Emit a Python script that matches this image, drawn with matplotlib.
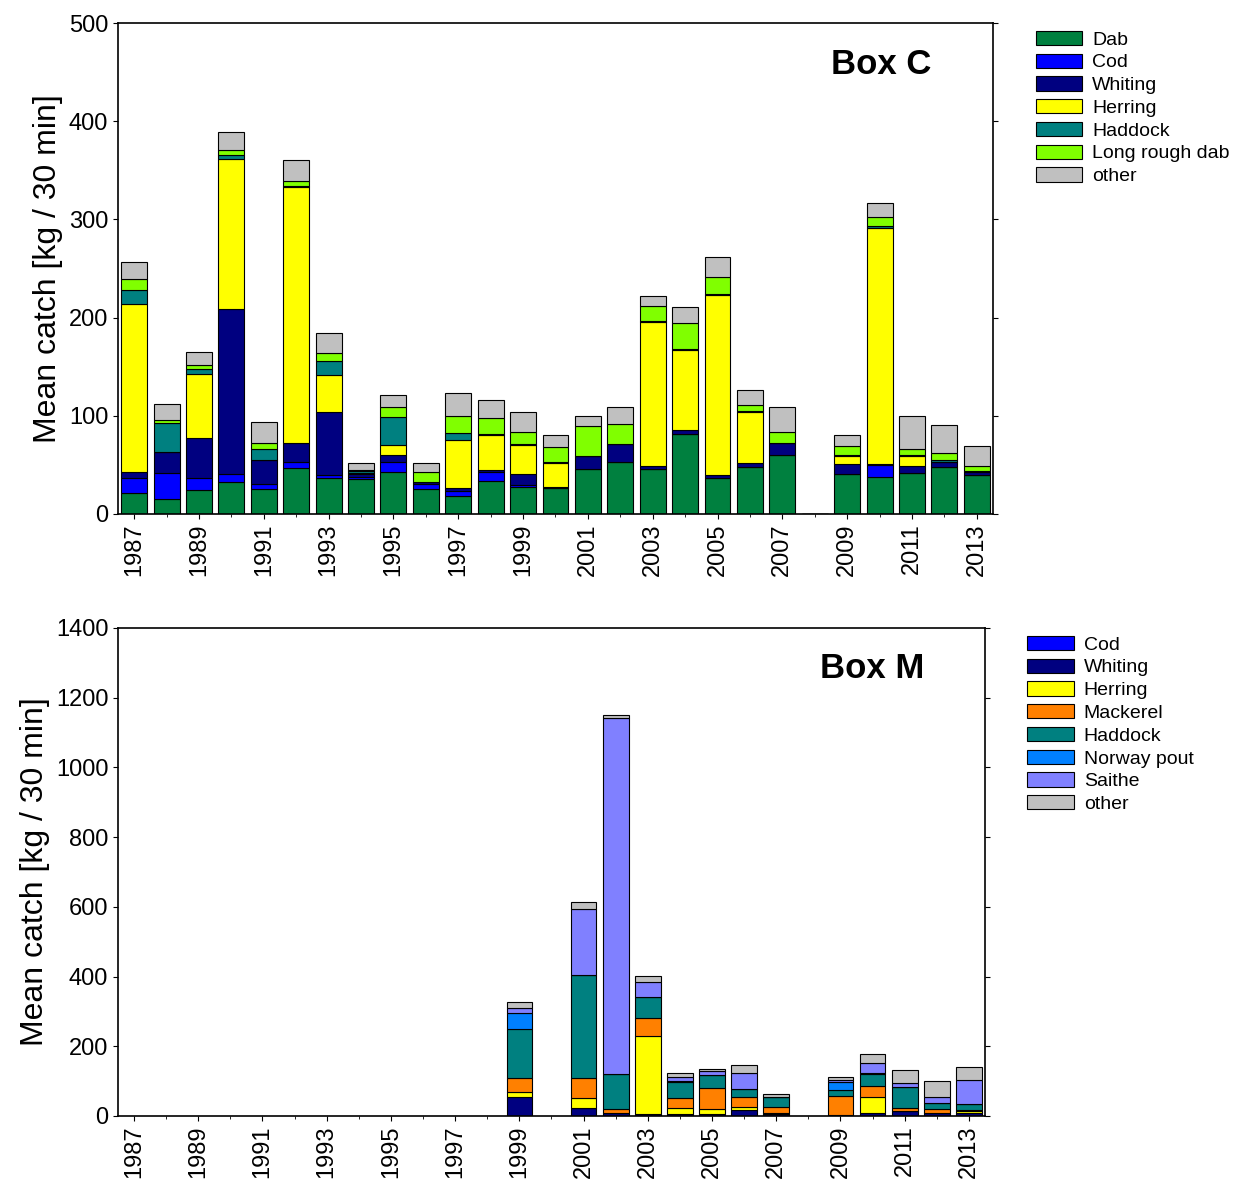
import numpy as np
import matplotlib.pyplot as plt
from matplotlib.ticker import MultipleLocator

plt.rcParams["font.family"] = ["Liberation Sans", "DejaVu Sans"]

years = list(range(1987, 2014))

# Box C: cumulative tops per year (kg/30 min), stacked in order below
c_species = ["Dab", "Cod", "Whiting", "Herring", "Haddock", "Long rough dab", "other"]
c_colors = ["#00803f", "#0000ff", "#000080", "#ffff00", "#008080", "#80ff00", "#c0c0c0"]
c_tops = [
    [21, 37, 43, 214, 228, 239, 257],
    [15, 42, 63, 63, 93, 96, 112],
    [24, 37, 77, 143, 148, 152, 165],
    [33, 41, 209, 362, 366, 371, 389],
    [25, 31, 55, 55, 66, 72, 94],
    [47, 53, 72, 333, 334, 339, 360],
    [37, 40, 104, 142, 156, 164, 184],
    [36, 38, 41, 42, 44, 45, 52],
    [43, 53, 60, 70, 99, 109, 121],
    [25, 31, 33, 33, 33, 43, 52],
    [18, 23, 26, 75, 82, 100, 123],
    [34, 43, 45, 80, 81, 98, 116],
    [28, 30, 41, 70, 71, 84, 104],
    [26, 26, 28, 52, 53, 68, 80],
    [46, 46, 59, 59, 59, 90, 100],
    [53, 53, 71, 71, 71, 92, 109],
    [46, 46, 49, 196, 197, 212, 222],
    [81, 81, 86, 167, 168, 195, 211],
    [37, 37, 40, 223, 224, 241, 262],
    [48, 48, 52, 104, 105, 111, 126],
    [60, 60, 72, 72, 72, 84, 109],
    [0, 0, 0, 0, 0, 0, 0],
    [41, 41, 51, 59, 60, 69, 80],
    [38, 50, 51, 291, 293, 302, 317],
    [42, 42, 49, 59, 60, 66, 100],
    [48, 48, 53, 53, 55, 62, 91],
    [40, 40, 43, 43, 44, 49, 69],
]

# Box M
m_species = ["Cod", "Whiting", "Herring", "Mackerel", "Haddock", "Norway pout", "Saithe", "other"]
m_colors = ["#0000ff", "#000080", "#ffff00", "#ff8000", "#008080", "#0080ff", "#8080ff", "#c0c0c0"]
m_tops = {
    1999: [0, 55, 68, 108, 249, 295, 309, 326],
    2001: [0, 24, 51, 108, 405, 405, 593, 615],
    2002: [0, 8, 8, 19, 120, 120, 1142, 1150],
    2003: [0, 5, 230, 280, 340, 342, 385, 403],
    2004: [0, 5, 24, 51, 97, 100, 113, 122],
    2005: [0, 5, 20, 81, 118, 118, 130, 135],
    2006: [0, 17, 25, 55, 77, 77, 122, 146],
    2007: [0, 5, 8, 27, 54, 54, 54, 63],
    2009: [0, 3, 3, 57, 75, 98, 103, 113],
    2010: [0, 8, 54, 86, 120, 124, 151, 178],
    2011: [0, 15, 15, 22, 84, 84, 94, 132],
    2012: [0, 8, 8, 19, 38, 38, 54, 100],
    2013: [0, 8, 14, 17, 34, 34, 103, 142],
}


def stacked(ax, x, tops, names, colors):
    tops = np.array(tops, dtype=float)
    seg = np.diff(np.hstack([np.zeros((len(tops), 1)), tops]), axis=1)
    bottom = np.zeros(len(tops))
    for i, (n, c) in enumerate(zip(names, colors)):
        ax.bar(x, seg[:, i], 0.8, bottom=bottom, color=c, edgecolor="black",
               linewidth=0.8, label=n)
        bottom += seg[:, i]


def style(ax, ymax, ystep, title):
    ax.set_xlim(1986.5, 2013.5)
    ax.set_ylim(0, ymax)
    ax.yaxis.set_major_locator(MultipleLocator(ystep))
    ax.xaxis.set_minor_locator(MultipleLocator(1))
    ax.set_xticks(range(1987, 2014, 2))
    ax.set_xticklabels([str(y) for y in range(1987, 2014, 2)], rotation=90, fontsize=17)
    ax.tick_params(axis="y", labelsize=17, right=True, direction="out")
    ax.tick_params(axis="x", which="both", top=False, direction="out")
    ax.set_ylabel("Mean catch [kg / 30 min]", fontsize=23)
    ax.text(0.93, 0.95, title, transform=ax.transAxes, ha="right", va="top",
            fontsize=25, fontweight="bold")
    for s in ax.spines.values():
        s.set_linewidth(1.2)


def legend(ax):
    ax.legend(loc="upper left", bbox_to_anchor=(1.04, 1.0), frameon=False, fontsize=14,
              handlelength=2.4, handleheight=0.75, labelspacing=0.25, handletextpad=0.5,
              borderaxespad=0)


fig = plt.figure(figsize=(12.36, 11.9), dpi=100)
ax1 = fig.add_axes([118 / 1236, 1 - 514 / 1190, 875 / 1236, 491 / 1190])
ax2 = fig.add_axes([118 / 1236, 1 - 1116 / 1190, 867 / 1236, 488 / 1190])

stacked(ax1, years, c_tops, c_species, c_colors)
style(ax1, 500, 100, "Box C")
legend(ax1)

m_years = list(m_tops.keys())
stacked(ax2, m_years, [m_tops[y] for y in m_years], m_species, m_colors)
style(ax2, 1400, 200, "Box M")
legend(ax2)

fig.savefig("out.png", dpi=100)
